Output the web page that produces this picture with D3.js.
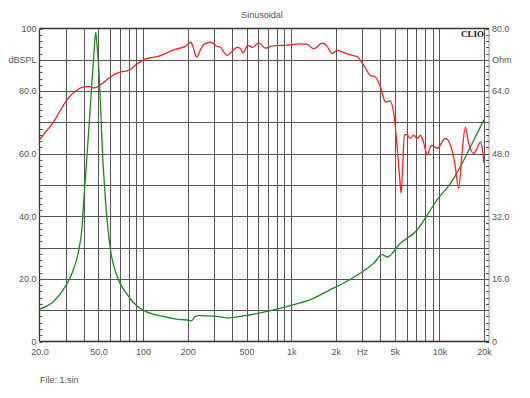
<!DOCTYPE html>
<html><head><meta charset="utf-8">
<script src="https://cdn.jsdelivr.net/npm/d3@7"></script>
<style>
body{margin:0;background:#fff;}
svg{display:block;font-family:"Liberation Sans",Arial,sans-serif;}
</style></head>
<body>
<svg id="chart" width="530" height="398"></svg>
<script>
// ---- data ----
const splFreq = [20,22,24.4,27,29.9,33,35.9,37.8,40,43,46.5,50,53,57,60.3,65,70.4,80,85,91.3,100,110,124.5,141.6,161,180,193,209,218,226,232,240,257,285,316,333,350,369,400,432,455,473,509,550,604,670,743,938,1154,1280,1420,1617,1746,1888,2041,2261,2575,2786,3085,3422,3697,4000,4326,4625,4922,5186,5400,5512,5650,5803,6051,6306,6710,7075,7450,7850,8270,8836,9646,10980,11870,12700,13500,14200,14970,15770,17050,17960,18930,19500,20000];
const splDb = [64.5,67,69.6,73,76.5,79,80.3,81,81.3,81.5,81,81.6,82.4,83.6,84.5,85.5,86.1,86.6,87.5,88.7,89.9,90.6,91,92,93.2,93.8,94.3,95.6,94,91.5,90.9,92.5,94.9,95.6,94.3,94,92.5,91.4,92.8,94,93.5,92.2,94.6,94,95.4,93.7,94.4,94.7,95.1,94.9,93.5,95.3,94.3,92,93,92.3,91.4,91,88.2,85,84.5,81.3,76.5,76.9,72.8,62.2,52,47.4,56,65.9,66.2,64.9,65.9,64.9,65.9,63.3,59.6,62.7,61.7,64.9,62.7,57,48.9,60,68.4,63.3,60.1,61.7,63.8,61.5,57];

const impFreq = [20,25,29.9,33.2,36.8,38.8,39.8,40.9,44.2,46.5,47.9,48.8,50.2,53.8,55.7,60.3,66.9,78.2,91.3,104,138,179,200,212,225,237,316,369,454,687,988,1348,1937,2148,2930,3604,4104,4438,5456,7075,8690,9646,11870,13860,15780,20000];
const impOhm = [8.3,10.3,14.1,17.5,23.4,29.4,36.2,42.1,60.8,73,79,76,70,45,36.2,23.4,16.6,12,9,7.7,6.4,5.6,5.5,5.3,6.4,6.6,6.4,6.0,6.4,7.7,9.2,10.7,13.7,14.5,17.5,20,22.2,21.6,25.1,28.5,33.6,36.2,40.4,44.7,48.9,56.7];

const xTickVals = [20,50,100,200,500,1000,2000,3000,5000,10000,20000];
const xTickLabels = ["20.0","50.0","100","200","500","1k","2k","Hz","5k","10k","20k"];
const xGrid = [30,40,50,60,70,80,90,100,200,300,400,500,600,700,800,900,1000,2000,3000,4000,5000,6000,7000,8000,9000,10000,20000];
const yTickVals = [0,20,40,60,80,90,100];
const yTickLabels = ["0","20.0","40.0","60.0","80.0","dBSPL","100"];
const rTickVals = [0,16,32,48,64,72,80];
const rTickLabels = ["0","16.0","32.0","48.0","64.0","Ohm","80.0"];

// ---- layout ----
const L = 39.5, R = 484, T = 28.5, B = 341.5, RA = 489;
const svg = d3.select("#chart");
const x = d3.scaleLog().domain([20,20000]).range([L,R]);
const y = d3.scaleLinear().domain([0,100]).range([B,T]);
const yr = d3.scaleLinear().domain([0,80]).range([B,T]);
const gridCol = "#555", txtCol = "#555";

// horizontal grid
svg.append("g").selectAll("line").data(d3.range(10,100,10)).join("line")
  .attr("x1",L).attr("x2",RA).attr("y1",d=>Math.round(y(d))+0.5).attr("y2",d=>Math.round(y(d))+0.5)
  .attr("stroke",gridCol).attr("stroke-width",1);
// vertical grid
svg.append("g").selectAll("line").data(xGrid).join("line")
  .attr("x1",d=>Math.round(x(d))+0.5).attr("x2",d=>Math.round(x(d))+0.5).attr("y1",T).attr("y2",B)
  .attr("stroke",gridCol).attr("stroke-width",1);
// frame
const fr = svg.append("g").attr("stroke","#333").attr("stroke-width",1.3);
fr.append("line").attr("x1",L).attr("x2",RA).attr("y1",T).attr("y2",T);
fr.append("line").attr("x1",L).attr("x2",RA).attr("y1",B).attr("y2",B);
fr.append("line").attr("x1",L).attr("x2",L).attr("y1",T).attr("y2",B);
fr.append("line").attr("x1",RA).attr("x2",RA).attr("y1",T).attr("y2",B).attr("stroke-width",0.8).attr("stroke","#777");
// minor ticks
const minors = d3.range(0,101,2);
svg.append("g").selectAll("line").data(minors).join("line")
  .attr("x1",L).attr("x2",L+3).attr("y1",d=>Math.round(y(d))+0.5).attr("y2",d=>Math.round(y(d))+0.5)
  .attr("stroke","#555").attr("stroke-width",1);
svg.append("g").selectAll("line").data(minors).join("line")
  .attr("x1",RA-3).attr("x2",RA).attr("y1",d=>Math.round(y(d))+0.5).attr("y2",d=>Math.round(y(d))+0.5)
  .attr("stroke","#555").attr("stroke-width",1);

// axes labels via d3 axes
const ax = d3.axisBottom(x).tickValues(xTickVals).tickSize(0).tickPadding(7)
  .tickFormat((d,i)=>xTickLabels[i]);
const gx = svg.append("g").attr("transform",`translate(0,${B})`).call(ax);
gx.select(".domain").remove();
gx.selectAll("text").attr("fill",txtCol).style("font-size","9px").style("font-family","Liberation Sans, Arial, sans-serif");

const ayl = d3.axisLeft(y).tickValues(yTickVals).tickSize(0).tickPadding(3)
  .tickFormat((d,i)=>yTickLabels[i]);
const gy = svg.append("g").attr("transform",`translate(${L},0)`).call(ayl);
gy.select(".domain").remove();
gy.selectAll("text").attr("fill",txtCol).style("font-size","9px").style("font-family","Liberation Sans, Arial, sans-serif");

const ayr = d3.axisRight(yr).tickValues(rTickVals).tickSize(0).tickPadding(3)
  .tickFormat((d,i)=>rTickLabels[i]);
const gr = svg.append("g").attr("transform",`translate(${RA},0)`).call(ayr);
gr.select(".domain").remove();
gr.selectAll("text").attr("fill",txtCol).style("font-size","9px").style("font-family","Liberation Sans, Arial, sans-serif");

// curves
const splData = splFreq.map((f,i)=>[f,splDb[i]]);
const impData = impFreq.map((f,i)=>[f,impOhm[i]]);
const clipId = "plotclip";
svg.append("clipPath").attr("id",clipId).append("rect").attr("x",L).attr("y",T-6).attr("width",RA-L+2).attr("height",B-T+6);
svg.append("path").datum(impData)
  .attr("d",d3.line().x(d=>x(d[0])).y(d=>yr(d[1])).curve(d3.curveMonotoneX))
  .attr("fill","none").attr("stroke","#1c8a1c").attr("stroke-width",1.3).attr("clip-path",`url(#${clipId})`);
svg.append("path").datum(splData)
  .attr("d",d3.line().x(d=>x(d[0])).y(d=>y(d[1])).curve(d3.curveMonotoneX))
  .attr("fill","none").attr("stroke","#ff2020").attr("stroke-width",1.3).attr("clip-path",`url(#${clipId})`);

// texts
svg.append("text").attr("x",262).attr("y",18).attr("text-anchor","middle")
  .attr("fill",txtCol).style("font-size","9px").text("Sinusoidal");
svg.append("text").attr("x",484).attr("y",37).attr("text-anchor","end")
  .attr("fill","#111").style("font-size","9px").style("font-weight","bold")
  .style("font-family","Liberation Serif, Times New Roman, serif").text("CLIO");
svg.append("text").attr("x",40).attr("y",383)
  .attr("fill",txtCol).style("font-size","9px").text("File: 1.sin");
</script>
</body></html>
